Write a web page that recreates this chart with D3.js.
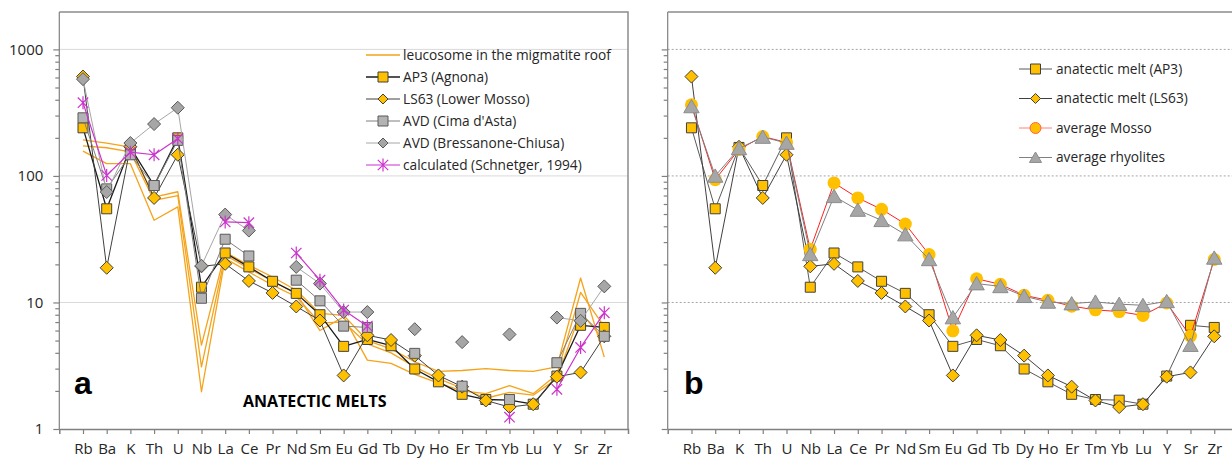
<!DOCTYPE html>
<html>
<head>
<meta charset="utf-8">
<script src="https://cdn.jsdelivr.net/npm/d3@7"></script>
<style>
  html, body { margin: 0; padding: 0; background: #fff; }
  svg { display: block; }
</style>
</head>
<body>
<div id="chart"></div>
<script>
// Elements on the x axis
const elements = ["Rb", "Ba", "K", "Th", "U", "Nb", "La", "Ce", "Pr", "Nd", "Sm", "Eu", "Gd", "Tb", "Dy", "Ho", "Er", "Tm", "Yb", "Lu", "Y", "Sr", "Zr"];
const yTickValues = [1, 10, 100, 1000];

// Panel a - leucosomes in the migmatite roof (no markers)
const leucosome1 = [193, 182, 169, 68, 75, 4.6, 25, 19.7, 15.9, 12.5, 8.2, 7.9, 5.0, 4.3, 3.4, 2.85, 2.9, 3.0, 2.9, 2.85, 3.1, 15.6, 3.7];
const leucosome2 = [173, 167, 155, 64, 70, 3.1, 23.6, 18.6, 14.7, 11.8, 6.0, 7.7, 3.5, 3.3, 2.7, 2.3, 2.0, 1.9, 2.2, 1.9, 2.7, 12, 6.4];
const leucosome3 = [157, 125, 125, 44.6, 57, 1.97, 22.3, 17.4, 13.7, 11.1, 6.9, 7.0, 4.7, 4.0, 3.1, 2.5, 2.1, 1.75, 1.95, 1.85, 2.5, 8.4, 5.0];

// Anatectic melts
const ap3 = [240, 55, 168, 84, 200, 13.2, 24.6, 19.1, 14.7, 11.8, 8.0, 4.5, 5.1, 4.55, 2.98, 2.36, 1.88, 1.71, 1.69, 1.57, 2.62, 6.6, 6.35];
const ls63 = [610, 18.8, 170, 67, 147, 19.3, 20.2, 14.8, 11.9, 9.3, 7.2, 2.65, 5.5, 5.05, 3.8, 2.65, 2.16, 1.68, 1.49, 1.57, 2.59, 2.8, 5.4];
const avdCima = [288, 79, 147, 84, 191, 10.8, 31.6, 23.3, null, 15, 10.3, 6.5, 6.35, null, 3.96, null, 2.18, null, 1.71, null, 3.34, 8.2, 5.4];
const avdBressanone = [582, 74.6, 182, 257, 346, 19.5, 49.5, 37, null, 19.1, 14.1, 8.4, 8.4, null, 6.15, null, 4.86, null, 5.59, null, 7.6, 7.16, 13.4];
const calculated = [379, 101, 154, 147, 197, null, 43.3, 42.7, null, 24.6, 15, 8.7, 6.5, null, null, null, null, null, 1.24, null, 2.06, 4.41, 8.28];

// Panel b - averages
const averageMosso = [365, 93.5, 162, 205, 184, 26.3, 88, 67, 54.5, 41.7, 23.9, 5.97, 15.4, 13.9, 11.4, 10.4, 9.35, 8.74, 8.47, 7.9, 9.9, 5.42, 21.9];
const averageRhyolites = [354, 100, 165, 203, 182, 24, 69, 53.8, 44.6, 34.4, 21.9, 7.6, 14.1, 13.4, 11.2, 10.1, 9.8, 10.1, 9.7, 9.5, 10.2, 4.6, 22.5];

const legendA = ["leucosome in the migmatite roof", "AP3 (Agnona)", "LS63 (Lower Mosso)", "AVD (Cima d'Asta)", "AVD (Bressanone-Chiusa)", "calculated (Schnetger, 1994)"];
const legendB = ["anatectic melt (AP3)", "anatectic melt (LS63)", "average Mosso", "average rhyolites"];

const attrs = {
    svgWidth: 1232,
    svgHeight: 459,
    top: 12,
    bottom: 429,
    yTop: 1975,
    defaultFont: "'Open Sans', sans-serif",
    textFill: "#262626",
    gold: "#ffc000",
    orangeLine: "#f5a31a",
    magenta: "#cc33cc"
};

// Marker shapes (centred on 0,0)
const markers = {
    square: s => `M${-s / 2},${-s / 2}H${s / 2}V${s / 2}H${-s / 2}Z`,
    diamond: s => `M0,${-s / 2}L${s / 2},0L0,${s / 2}L${-s / 2},0Z`,
    triangle: s => `M0,${-s * 0.5}L${s * 0.55},${s * 0.45}L${-s * 0.55},${s * 0.45}Z`,
    circle: s => d3.symbol(d3.symbolCircle, Math.PI * s * s / 4)(),
    star: s => {
        const r = s / 2, d = r * 0.8;
        return `M${-d},${-d}L${d},${d}M${-d},${d}L${d},${-d}M0,${-r}V${r}`;
    }
};

const svg = d3.select("#chart").append("svg")
    .attr("width", attrs.svgWidth)
    .attr("height", attrs.svgHeight)
    .attr("font-family", attrs.defaultFont);

function drawSeries(g, x, y, values, style) {
    const pts = elements.map((e, i) => ({ e, v: values[i] }));
    const line = d3.line()
        .defined(d => d.v != null)
        .x(d => x(d.e))
        .y(d => y(d.v));
    g.append("path")
        .attr("d", line(pts))
        .attr("fill", "none")
        .attr("stroke", style.line)
        .attr("stroke-width", style.lineWidth || 1)
        .attr("stroke-linejoin", "round");
    if (!style.marker) return;
    g.append("g").selectAll("path")
        .data(pts.filter(d => d.v != null))
        .join("path")
        .attr("transform", d => `translate(${x(d.e)},${y(d.v)})`)
        .attr("d", markers[style.marker](style.size))
        .attr("fill", style.fill)
        .attr("stroke", style.stroke)
        .attr("stroke-width", style.strokeWidth || 1);
}

function drawLegendItem(g, lx, ly, x1, x2, label, style) {
    g.append("line")
        .attr("x1", x1).attr("x2", x2)
        .attr("y1", ly).attr("y2", ly)
        .attr("stroke", style.legendLine || style.line)
        .attr("stroke-width", style.lineWidth || 1);
    if (style.marker) {
        g.append("path")
            .attr("transform", `translate(${(x1 + x2) / 2},${ly})`)
            .attr("d", markers[style.marker](style.legendSize || style.size))
            .attr("fill", style.fill)
            .attr("stroke", style.legendStroke || style.stroke)
            .attr("stroke-width", style.strokeWidth || 1);
    }
    g.append("text")
        .attr("x", lx)
        .attr("y", ly)
        .attr("dy", "0.35em")
        .attr("font-size", 13.7)
        .attr("fill", attrs.textFill)
        .text(label);
}

function drawPanel(params) {
    const { left, right, showLabels, gridDash } = params;
    const g = svg.append("g");

    const x = d3.scalePoint()
        .domain(elements)
        .range([left, right])
        .padding(1);
    const y = d3.scaleLog()
        .domain([1, attrs.yTop])
        .range([attrs.bottom, attrs.top]);

    // Gridlines
    g.append("g").selectAll("line")
        .data(yTickValues.slice(1))
        .join("line")
        .attr("x1", left).attr("x2", right)
        .attr("y1", d => y(d)).attr("y2", d => y(d))
        .attr("stroke", gridDash ? "#a6a6a6" : "#d9d9d9")
        .attr("stroke-width", 1)
        .attr("stroke-dasharray", gridDash ? "2,2" : null);

    // Frame (top and right)
    g.append("path")
        .attr("d", `M${left},${attrs.top}H${right}V${attrs.bottom}`)
        .attr("fill", "none")
        .attr("stroke", "#8c8c8c")
        .attr("stroke-width", 1.5);

    // Y axis: major ticks with labels, minor ticks without
    const minor = [];
    [1, 10, 100, 1000].forEach(dec => {
        for (let k = 2; k <= 9; k++) if (dec * k < attrs.yTop) minor.push(dec * k);
    });
    const yMinor = g.append("g")
        .attr("transform", `translate(${left},0)`)
        .call(d3.axisLeft(y).tickValues(minor).tickFormat("").tickSize(4));
    yMinor.select(".domain").remove();

    const yAxis = g.append("g")
        .attr("transform", `translate(${left},0)`)
        .call(d3.axisLeft(y).tickValues(yTickValues)
            .tickFormat(showLabels ? d3.format("d") : "")
            .tickSize(6).tickSizeOuter(0).tickPadding(10));
    yAxis.select(".domain").attr("d", `M0,${attrs.top}V${attrs.bottom}`);
    g.selectAll(".tick line, .domain").attr("stroke", "#808080").attr("stroke-width", 1.2);
    yAxis.selectAll("text")
        .attr("font-size", 15)
        .attr("fill", attrs.textFill)
        .attr("font-family", attrs.defaultFont);

    // X axis
    const xAxis = g.append("g")
        .attr("transform", `translate(0,${attrs.bottom})`)
        .call(d3.axisBottom(x).tickSize(5).tickSizeOuter(5));
    xAxis.select(".domain").attr("stroke", "#808080").attr("stroke-width", 1.5);
    xAxis.selectAll(".tick line").attr("stroke", "#808080").attr("stroke-width", 1.2);
    xAxis.selectAll("text")
        .attr("y", 25)
        .attr("dy", null)
        .attr("font-size", 15)
        .attr("fill", attrs.textFill)
        .attr("font-family", attrs.defaultFont);

    return { g, x, y };
}

// Series styles
const styleLeuco = { line: attrs.orangeLine, lineWidth: 1.3 };
const styleAP3 = { line: "#1a1a1a", lineWidth: 1.3, marker: "square", size: 10, fill: attrs.gold, stroke: "#404040" };
const styleLS63 = { line: "#404040", lineWidth: 1, marker: "diamond", size: 13, fill: attrs.gold, stroke: "#404040", legendSize: 10 };
const styleCima = { line: "#7f7f7f", lineWidth: 1, marker: "square", size: 10, fill: "#b3b3b3", stroke: "#595959" };
const styleBress = { line: "#a6a6a6", lineWidth: 1, marker: "diamond", size: 13, fill: "#a6a6a6", stroke: "#595959", legendSize: 10 };
const styleCalc = { line: attrs.magenta, lineWidth: 1.2, marker: "star", size: 13, fill: "none", stroke: attrs.magenta, strokeWidth: 1.2 };

const styleAP3b = Object.assign({}, styleAP3, { line: "#595959", lineWidth: 1 });
const styleMosso = { line: "#ff2020", lineWidth: 1, marker: "circle", size: 13, fill: attrs.gold, stroke: "none", legendLine: "#ff8080", legendStroke: "#ff6040", legendSize: 11 };
const styleRhyo = { line: "#808080", lineWidth: 1, marker: "triangle", size: 14, fill: "#a6a6a6", stroke: "#8c8c8c", legendSize: 11 };

// ---------- Panel a ----------
const pa = drawPanel({ left: 59.3, right: 628, showLabels: true, gridDash: false });
[leucosome1, leucosome2, leucosome3].forEach(v => drawSeries(pa.g, pa.x, pa.y, v, styleLeuco));
drawSeries(pa.g, pa.x, pa.y, ap3, styleAP3);
drawSeries(pa.g, pa.x, pa.y, ls63, styleLS63);
drawSeries(pa.g, pa.x, pa.y, avdCima, styleCima);
drawSeries(pa.g, pa.x, pa.y, avdBressanone, styleBress);
drawSeries(pa.g, pa.x, pa.y, calculated, styleCalc);

const legA = pa.g.append("g");
[styleLeuco, styleAP3, styleLS63, styleCima, styleBress, styleCalc].forEach((s, i) => {
    drawLegendItem(legA, 403, 55 + i * 22, 366, 400, legendA[i], s);
});

pa.g.append("text")
    .attr("x", 74).attr("y", 394)
    .attr("font-family", "'Liberation Sans', Arial, sans-serif")
    .attr("font-weight", "bold").attr("font-size", 32)
    .attr("fill", "#000")
    .text("a");
pa.g.append("text")
    .attr("x", 243).attr("y", 407)
    .attr("font-weight", "bold").attr("font-size", 16)
    .attr("fill", "#000")
    .text("ANATECTIC MELTS");

// ---------- Panel b ----------
const pb = drawPanel({ left: 667.7, right: 1238, showLabels: false, gridDash: true });
drawSeries(pb.g, pb.x, pb.y, ap3, styleAP3b);
drawSeries(pb.g, pb.x, pb.y, ls63, styleLS63);
drawSeries(pb.g, pb.x, pb.y, averageMosso, styleMosso);
drawSeries(pb.g, pb.x, pb.y, averageRhyolites, styleRhyo);

const legB = pb.g.append("g");
[styleAP3b, styleLS63, styleMosso, styleRhyo].forEach((s, i) => {
    drawLegendItem(legB, 1056, 69 + i * 29.5, 1019, 1052, legendB[i], s);
});

pb.g.append("text")
    .attr("x", 684).attr("y", 394)
    .attr("font-family", "'Liberation Sans', Arial, sans-serif")
    .attr("font-weight", "bold").attr("font-size", 32)
    .attr("fill", "#000")
    .text("b");
</script>
</body>
</html>
